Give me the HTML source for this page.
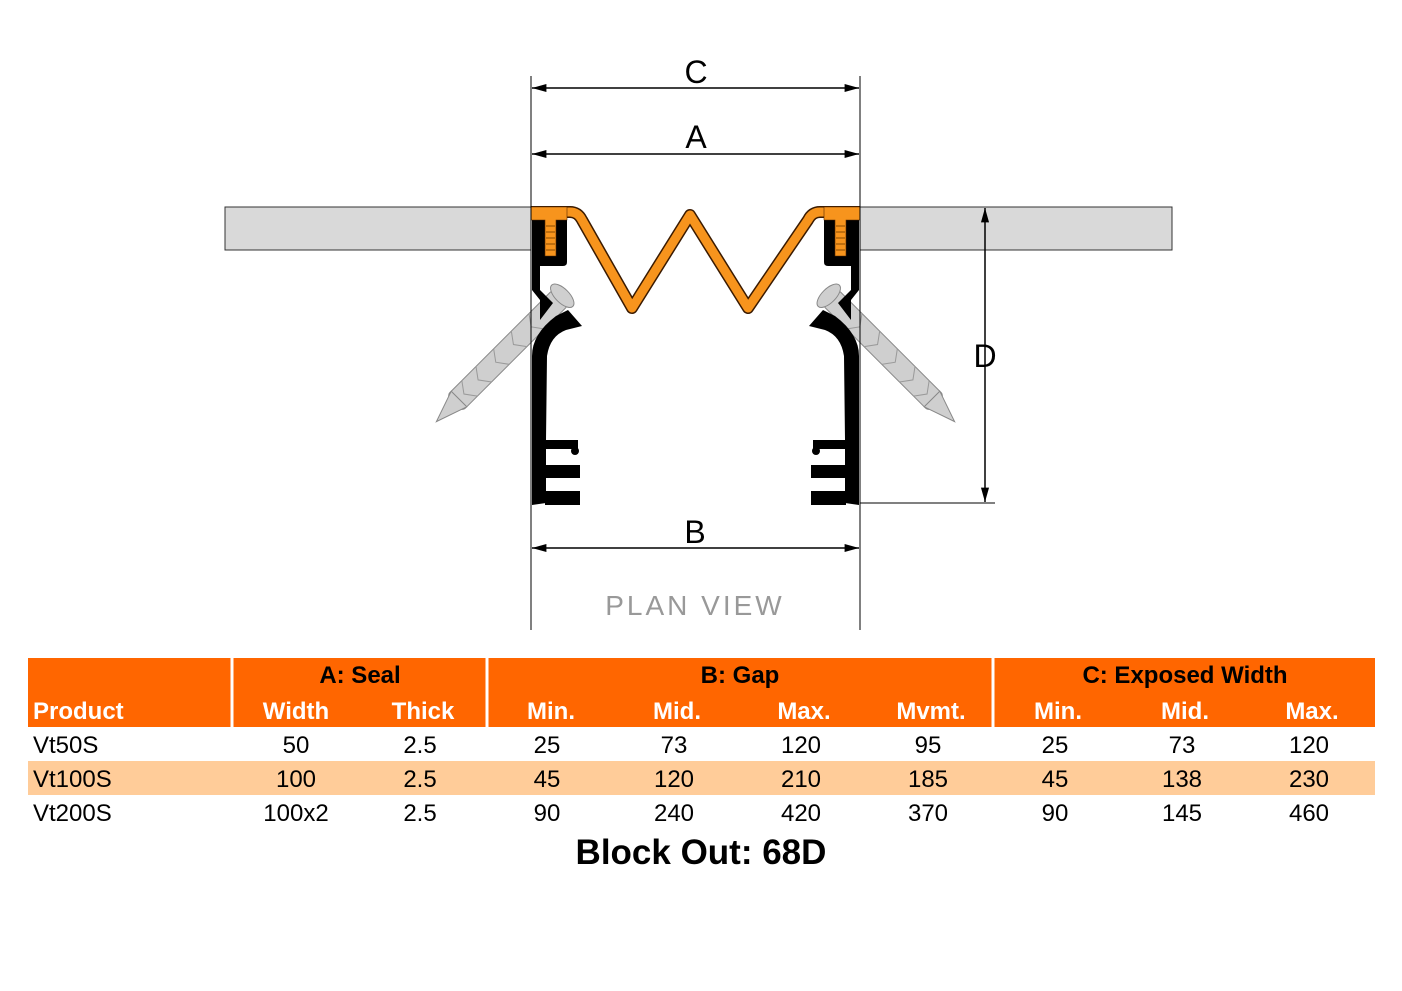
<!DOCTYPE html>
<html><head><meta charset="utf-8"><style>
body{margin:0;background:#fff;width:1402px;height:991px;overflow:hidden;font-family:"Liberation Sans",Arial,sans-serif}
svg{position:absolute;left:0;top:0}
</style></head><body>
<svg width="1402" height="991" viewBox="0 0 1402 991" xmlns="http://www.w3.org/2000/svg" font-family="Liberation Sans, Arial, sans-serif">
<defs>
<marker id="ar" viewBox="0 0 16 10" refX="16" refY="5" markerWidth="18" markerHeight="9" orient="auto-start-reverse" markerUnits="userSpaceOnUse"><path d="M0,0.5 L16,5 L0,9.5 z" fill="#000"/></marker>
<g id="half">
 <!-- screw -->
 <g transform="translate(558,300) rotate(135)">
  <rect x="-4" y="-11" width="150" height="22" rx="4" fill="#cfcfcf" stroke="#888" stroke-width="1"/>
  <path d="M140,-11 L172,0 L140,11 z" fill="#cfcfcf" stroke="#888"/>
  <path d="M30,-11 l8,11 l-8,11 M55,-11 l8,11 l-8,11 M80,-11 l8,11 l-8,11 M105,-11 l8,11 l-8,11 M125,-11 l8,11 l-8,11" fill="none" stroke="#999"/>
  <ellipse cx="-6" cy="0" rx="7" ry="15" fill="#cfcfcf" stroke="#888"/>
 </g>
 <!-- black profile -->
 <path d="M532,217 H567 V262 Q567,266 563,266 H540 V290 L553,303 L540,320 V300 L532,290 Z" fill="#000"/>
 <path d="M556,316 L568,310 L582,326 L566,330 Q550,336 547,356 L546,440 H532 V356 Q532,334 556,316 Z" fill="#000"/>
 <path d="M532,440 H546 V503 L532,505 Z" fill="#000"/>
 <rect x="545" y="440" width="33" height="9" fill="#000"/>
 <circle cx="575" cy="451" r="4" fill="#000"/>
 <rect x="545" y="465" width="35" height="13" fill="#000"/>
 <rect x="545" y="491" width="35" height="14" fill="#000"/>
 <!-- orange T -->
 <path d="M531,207 H567 V220 H556 V256 H545 V220 H531 Z" fill="#f7941d" stroke="#5a2a00" stroke-width="0.6"/>
 <path d="M546,226 h9 M546,232 h9 M546,238 h9 M546,244 h9 M546,250 h9" stroke="#8a4a00" stroke-width="1"/>
</g>
</defs>
<!-- slabs -->
<rect x="225" y="207" width="306" height="43" fill="#d9d9d9" stroke="#333" stroke-width="1"/>
<rect x="860" y="207" width="312" height="43" fill="#d9d9d9" stroke="#333" stroke-width="1"/>
<!-- seal zigzag -->
<path d="M531,212 H570 Q578,212 582,220 L632,308 L690,215 L748,308 L808,220 Q812,212 820,212 H860" fill="none" stroke="#3a1a00" stroke-width="12" stroke-linejoin="round"/>
<path d="M531,212 H570 Q578,212 582,220 L632,308 L690,215 L748,308 L808,220 Q812,212 820,212 H860" fill="none" stroke="#f7941d" stroke-width="9" stroke-linejoin="round"/>
<use href="#half"/>
<use href="#half" transform="translate(1391,0) scale(-1,1)"/>
<!-- extension lines -->
<line x1="531" y1="76" x2="531" y2="630" stroke="#000" stroke-width="1"/>
<line x1="860" y1="76" x2="860" y2="630" stroke="#000" stroke-width="1"/>
<line x1="860" y1="503" x2="995" y2="503" stroke="#000" stroke-width="1"/>
<!-- dims -->
<line x1="532" y1="88" x2="859" y2="88" stroke="#000" stroke-width="1.5" marker-start="url(#ar)" marker-end="url(#ar)"/>
<line x1="532" y1="154" x2="859" y2="154" stroke="#000" stroke-width="1.5" marker-start="url(#ar)" marker-end="url(#ar)"/>
<line x1="532" y1="548" x2="859" y2="548" stroke="#000" stroke-width="1.5" marker-start="url(#ar)" marker-end="url(#ar)"/>
<line x1="985" y1="208" x2="985" y2="502" stroke="#000" stroke-width="1.5" marker-start="url(#ar)" marker-end="url(#ar)"/>
<g font-size="32" text-anchor="middle" fill="#000">
<text x="696" y="83">C</text><text x="696" y="148">A</text><text x="695" y="543">B</text><text x="985" y="367">D</text>
</g>
<text x="695" y="615" font-size="28" text-anchor="middle" fill="#999" letter-spacing="3" font-weight="300">PLAN VIEW</text>
<!-- table -->
<rect x="28" y="658" width="1347" height="69" fill="#ff6600"/>
<rect x="28" y="761" width="1347" height="34" fill="#ffcc99"/>
<g stroke="#fff" stroke-width="3"><line x1="232" y1="658" x2="232" y2="727"/><line x1="487" y1="658" x2="487" y2="727"/><line x1="993" y1="658" x2="993" y2="727"/></g>
<g font-size="24" font-weight="bold" text-anchor="middle" fill="#000">
<text x="360" y="683">A: Seal</text><text x="740" y="683">B: Gap</text><text x="1185" y="683">C: Exposed Width</text>
</g>
<g font-size="24" font-weight="bold" text-anchor="middle" fill="#fff">
<text x="33" y="719" text-anchor="start">Product</text>
<text x="296" y="719">Width</text><text x="423" y="719">Thick</text>
<text x="551" y="719">Min.</text><text x="677" y="719">Mid.</text><text x="804" y="719">Max.</text><text x="931" y="719">Mvmt.</text>
<text x="1058" y="719">Min.</text><text x="1185" y="719">Mid.</text><text x="1312" y="719">Max.</text>
</g>
<g font-size="24" text-anchor="middle" fill="#000">
<text x="33" y="753" text-anchor="start">Vt50S</text><text x="296" y="753">50</text><text x="420" y="753">2.5</text><text x="547" y="753">25</text><text x="674" y="753">73</text><text x="801" y="753">120</text><text x="928" y="753">95</text><text x="1055" y="753">25</text><text x="1182" y="753">73</text><text x="1309" y="753">120</text>
<text x="33" y="787" text-anchor="start">Vt100S</text><text x="296" y="787">100</text><text x="420" y="787">2.5</text><text x="547" y="787">45</text><text x="674" y="787">120</text><text x="801" y="787">210</text><text x="928" y="787">185</text><text x="1055" y="787">45</text><text x="1182" y="787">138</text><text x="1309" y="787">230</text>
<text x="33" y="821" text-anchor="start">Vt200S</text><text x="296" y="821">100x2</text><text x="420" y="821">2.5</text><text x="547" y="821">90</text><text x="674" y="821">240</text><text x="801" y="821">420</text><text x="928" y="821">370</text><text x="1055" y="821">90</text><text x="1182" y="821">145</text><text x="1309" y="821">460</text>
</g>
<text x="701" y="864" font-size="35" font-weight="bold" text-anchor="middle">Block Out: 68D</text>
</svg>
</body></html>
